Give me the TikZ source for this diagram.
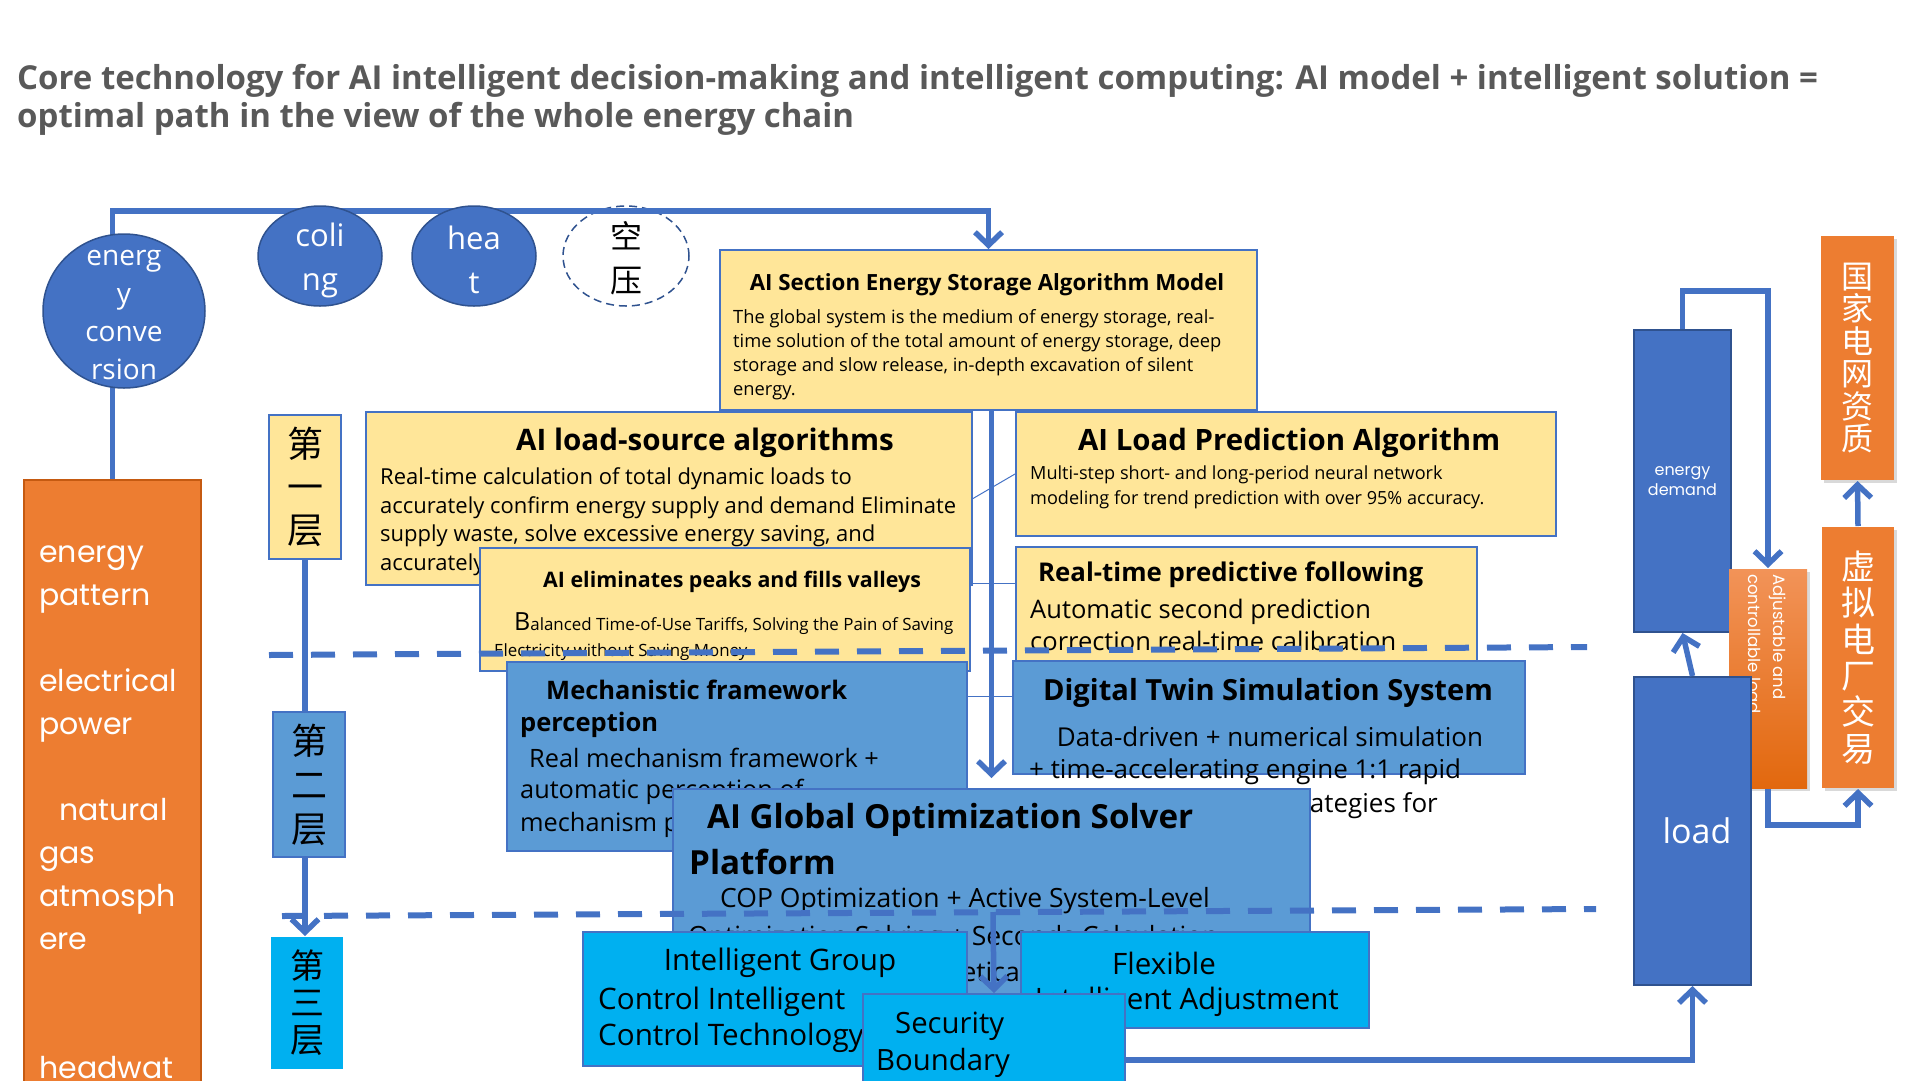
\documentclass[tikz,border=0pt]{standalone}
\usepackage{fontspec}
\setmainfont{Open Sans}
\newfontfamily\cjk{Noto Sans CJK SC}
\newfontfamily\pop{Poppins}
\usetikzlibrary{shapes.geometric,arrows.meta,shadows}
\definecolor{cblue}{HTML}{4472C4}
\definecolor{cdark}{HTML}{2F528F}
\definecolor{cmid}{HTML}{5B9BD5}
\definecolor{cyel}{HTML}{FFE699}
\definecolor{ccyan}{HTML}{00B0F0}
\definecolor{corange}{HTML}{ED7D31}
\definecolor{corangeD}{HTML}{C55A11}
\definecolor{cadjT}{HTML}{F29358}
\definecolor{cadjB}{HTML}{E2680E}
\definecolor{ctitle}{HTML}{595959}
\newcommand\fs[2]{\fontsize{#1}{#2}\selectfont}
\begin{document}
\begin{tikzpicture}[x=1pt,y=-1pt,
  conn/.style={draw=cblue,line width=5.5pt},
  arr/.style={conn,-{Straight Barb[length=13pt,width=27pt]}},
  thinc/.style={draw=cblue,line width=1pt},
  sepline/.style={draw=cblue,line width=6pt,dash pattern=on 24pt off 18pt},
  box/.style={rectangle,anchor=north west,inner sep=0pt,line width=2pt,draw=cblue},
  ybox/.style={box,fill=cyel},
  mbox/.style={box,fill=cmid},
  cbox/.style={box,fill=ccyan},
  dbox/.style={box,fill=cblue,draw=cdark},
  obox/.style={box,fill=corange,draw=none,drop shadow={shadow xshift=3pt,shadow yshift=-3pt,opacity=0.3}},
  circ/.style={ellipse,draw=cdark,line width=1.5pt,fill=cblue,inner sep=0pt},
  txt/.style={inner sep=0pt,text=black},
  wtxt/.style={inner sep=0pt,text=white,align=center}]
\useasboundingbox (0,0) rectangle (1920,1080);

% ---------- title ----------
\node[txt,anchor=north west,align=left,text=ctitle,font=\bfseries\fs{33}{38}] (title) at (17,64)
  {Core technology for AI intelligent decision-making and intelligent computing: AI model + intelligent solution =\\optimal path in the view of the whole energy chain};

% ---------- left orange column ----------
\node[box,fill=corange,draw=corangeD,line width=1.5pt,minimum width=177pt,minimum height=621pt] (pattern) at (23,479) {};
\node[txt,anchor=north west,align=left,text=white,font=\pop\fs{30}{43}] (patterntxt) at (39,546)
  {energy\\pattern\\[43pt]electrical\\power\\[43pt]\hspace*{20pt}natural\\gas\\atmosph\\ere\\[86pt]headwat};

% ---------- storage model ----------
\node[ybox,minimum width=537pt,minimum height=160pt] (storage) at (719,249) {};
\node[txt,font=\bfseries\fs{22.3}{24}] (storaget) at (987,285) {AI Section Energy Storage Algorithm Model};
\node[txt,anchor=north west,align=left,font=\fs{18.3}{24}] (storageb) at (733,309)
  {The global system is the medium of energy storage, real-\\time solution of the total amount of energy storage, deep\\storage and slow release, in-depth excavation of silent\\energy.};

% ---------- circles and top connector ----------
\node[circ,fill=white,draw=cdark,dash pattern=on 8pt off 5pt,minimum width=126pt,minimum height=100pt] (air) at (626,256) {};
\node[txt,align=center,font=\cjk\fs{32}{44}] (airt) at (626,258) {空\\压};
\draw[arr] (pattern.north) |- ([yshift=38pt]storage.north) -- (storage.north);
\node[circ,minimum width=162pt,minimum height=154pt] (econv) at (124,311) {};
\node[wtxt,font=\fs{28}{38}] (econvt) at (124,315) {energ\\y\\conve\\rsion};
\node[circ,minimum width=124pt,minimum height=100pt] (cool) at (320,256) {};
\node[wtxt,font=\fs{31}{44}] (coolt) at (320,260) {coli\\ng};
\node[circ,minimum width=124pt,minimum height=100pt] (heat) at (474,256) {};
\node[wtxt,font=\fs{31}{44}] (heatt) at (474,260) {hea\\t};

% ---------- first layer boxes ----------
\node[ybox,minimum width=606pt,minimum height=173pt] (loadsrc) at (365,411) {};
\node[txt,anchor=west,font=\bfseries\fs{29.6}{30}] (loadsrct) at (516,443) {AI load-source algorithms};
\node[txt,anchor=north west,align=left,font=\fs{22}{28.7}] (loadsrcb) at (380,467.5)
  {Real-time calculation of total dynamic loads to\\accurately confirm energy supply and demand Eliminate\\supply waste, solve excessive energy saving, and\\accurately match supply and demand.};

\node[ybox,minimum width=490pt,minimum height=123pt] (peaks) at (479,547) {};
\node[txt,anchor=west,font=\bfseries\fs{21.4}{22}] (peakst) at (543,582) {AI eliminates peaks and fills valleys};
\node[txt,anchor=west,font=\fs{16.9}{18}] (peaksb1) at (514,624) {{\fs{25}{25}B}alanced Time-of-Use Tariffs, Solving the Pain of Saving};
\node[txt,anchor=west,font=\fs{16.9}{18}] (peaksb2) at (494,652) {Electricity without Saving Money};

\node[ybox,minimum width=540pt,minimum height=124pt] (pred) at (1015,411) {};
\node[txt,anchor=west,font=\bfseries\fs{29.4}{30}] (predt) at (1078,443) {AI Load Prediction Algorithm};
\node[txt,anchor=north west,align=left,font=\fs{18.1}{25}] (predb) at (1030,466)
  {Multi-step short- and long-period neural network\\modeling for trend prediction with over 95\% accuracy.};

\node[ybox,minimum width=461pt,minimum height=115pt] (rt) at (1015,546) {};
\node[txt,anchor=west,font=\bfseries\fs{25.8}{26}] (rtt) at (1038,575) {Real-time predictive following};
\node[txt,anchor=north west,align=left,font=\fs{25.5}{32}] (rtb) at (1030,599)
  {Automatic second prediction\\correction real-time calibration};

% thin links
\coordinate (t3) at (0,696);
\draw[thinc] (loadsrc.east) -- (pred.west);
\draw[thinc] ([yshift=3pt]loadsrc.south east) -- ([yshift=3pt]loadsrc.south east -| rt.west);

% main vertical arrow
\coordinate (vend) at (991.5,778);
\draw[arr] (storage.south -| vend) -- (vend);

% ---------- second layer boxes ----------
\node[mbox,minimum width=460pt,minimum height=189pt] (mech) at (506,661) {};
\node[txt,anchor=west,font=\bfseries\fs{25.5}{28}] (mecht1) at (546,690) {Mechanistic framework};
\node[txt,anchor=west,font=\bfseries\fs{25.5}{28}] (mecht2) at (520,725) {perception};
\node[txt,anchor=west,font=\fs{25.3}{28}] (mechb1) at (529,758) {Real mechanism framework +};
\node[txt,anchor=west,font=\fs{25.3}{28}] (mechb2) at (520,792) {automatic perception of};
\node[txt,anchor=west,font=\fs{25.3}{28}] (mechb3) at (520,825) {mechanism parameters};

\node[mbox,minimum width=512pt,minimum height=113pt] (twin) at (1012,660) {};
\draw[thinc] (mech.east |- t3) -- (twin.west |- t3);
\node[txt,font=\bfseries\fs{29.1}{30}] (twint) at (1268,693) {Digital Twin Simulation System};
\node[txt,font=\fs{26}{28}] (twinb1) at (1270,737) {Data-driven + numerical simulation};
\node[txt,anchor=west,font=\fs{26}{28}] (twinb2) at (1029,772) {+ time-accelerating engine 1:1 rapid};
\node[txt,anchor=east,font=\fs{26}{28}] (twinb3) at (1438,806) {fast deduction of strategies for};

\node[mbox,minimum width=637pt,minimum height=215pt] (glob) at (672,788) {};
\node[txt,anchor=west,font=\bfseries\fs{33.2}{34}] (globt1) at (707,820) {AI Global Optimization Solver};
\node[txt,anchor=west,font=\bfseries\fs{33.2}{34}] (globt2) at (689,862) {Platform};
\node[txt,anchor=west,font=\fs{26.5}{28}] (globb1) at (720,901) {COP Optimization + Active System-Level};
\node[txt,anchor=west,font=\fs{26.5}{28}] (globb2) at (688,939) {Optimization Solving + Seconds Calculation};
\node[txt,anchor=west,font=\fs{26.5}{28}] (globb3) at (688,975) {and achieve the Theoretical Optimum};

% ---------- separators ----------
\draw[sepline] (269,655) -- (1587,647);
\draw[sepline] (282,916) -- (1596,909);

% ---------- third layer boxes ----------
\coordinate (sstart) at (993,912);
\node[cbox,minimum width=384pt,minimum height=134pt] (igc) at (582,931) {};
\node[txt,font=\fs{29.6}{30}] (igct1) at (780,963) {Intelligent Group};
\node[txt,anchor=west,font=\fs{29.6}{30}] (igct2) at (598,1002) {Control Intelligent};
\node[txt,anchor=west,font=\fs{29.6}{30}] (igct3) at (598,1038) {Control Technology};

\node[cbox,minimum width=348pt,minimum height=96pt] (flex) at (1020,931) {};
\node[txt,font=\fs{29.5}{30}] (flext1) at (1164,963) {Flexible};
\node[txt,anchor=east,font=\fs{29.5}{30}] (flext2) at (1339,1002) {Intelligent Adjustment};

\node[cbox,minimum width=262pt,minimum height=110pt] (sec) at (862,993) {};
\node[txt,anchor=west,font=\fs{29.3}{30}] (sect1) at (895,1026) {Security};
\node[txt,anchor=west,font=\fs{29.3}{30}] (sect2) at (876,1063) {Boundary};
\draw[arr] (sstart) -- (sec.north);

% ---------- layer labels ----------
\node[ybox,minimum width=72pt,minimum height=144pt,align=center,font=\cjk\fs{36}{43}] (L1) at (268,414) {第\\一\\层};
\node[mbox,minimum width=72pt,minimum height=145pt,align=center,font=\cjk\fs{36}{44}] (L2) at (272,711) {第\\二\\层};
\node[cbox,draw=none,minimum width=72pt,minimum height=132pt,align=center,font=\cjk\fs{34}{37}] (L3) at (270,936) {第\\三\\层};
\draw[conn] (L1.south) -- (L1.south |- L2.north);
\draw[arr] (L2.south -| L1.south) -- (L1.south |- L3.north);

% ---------- right side ----------
\node[dbox,minimum width=97pt,minimum height=302pt,align=center,text=white,font=\pop\fs{16}{20}] (demand) at (1633,329) {energy\\demand};
\node[box,draw=none,top color=cadjT,bottom color=cadjB,drop shadow={shadow xshift=3pt,shadow yshift=-3pt,opacity=0.3},minimum width=78pt,minimum height=219pt] (adj) at (1728,568) {};
\node[inner sep=0pt,text=white,rotate=-90,anchor=north west,align=left,font=\pop\fs{16.5}{25}] (adjt) at (1786,574) {Adjustable and\\controllable load};
\node[dbox,minimum width=117pt,minimum height=308pt,text=white,font=\fs{34}{40}] (load) at (1633,676) {\hspace*{9pt}load};
\node[obox,minimum width=73pt,minimum height=244pt,align=center,text=white,font=\cjk\fs{32}{32.5}] (grid) at (1820,235) {国\\家\\电\\网\\资\\质};
\node[obox,minimum width=72pt,minimum height=261pt,align=center,text=white,font=\cjk\fs{34}{36.4}] (virt) at (1821,526) {虚\\拟\\电\\厂\\交\\易};

\coordinate (lowy) at (0,1060);
\draw[arr] (sec.east |- lowy) -| (load.south);
\draw[arr] (load.north) -- (demand.south);
\draw[arr] (demand.north) -- ++(0,-38) -| (adj.north);
\draw[arr] (adj.south) -- ++(0,36) -| (virt.south);
\draw[arr] (virt.north) -- (grid.south);
\end{tikzpicture}
\end{document}
